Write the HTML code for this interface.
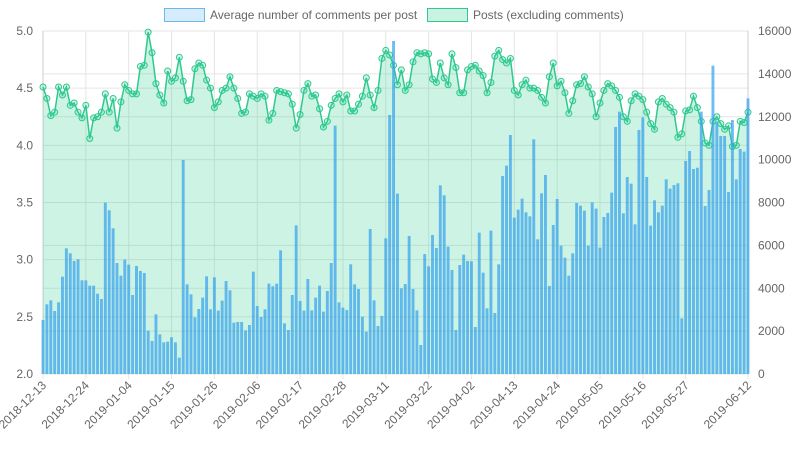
<!DOCTYPE html>
<html><head><meta charset="utf-8"><style>
html,body{margin:0;padding:0;background:#fff;}
svg{display:block;font-family:"Liberation Sans",sans-serif;}
</style></head><body>
<svg id="chart" width="798" height="450" viewBox="0 0 798 450">
<g>
 <g>
  <rect x="164.5" y="8.5" width="40" height="13" fill="#d6ebfb" stroke="#6cb8ea" stroke-width="1"/>
  <text x="210" y="19" font-size="12" fill="#666">Average number of comments per post</text>
 </g>
 <g>
  <rect x="427.5" y="8.5" width="40" height="13" fill="#c9f2e2" stroke="#2ec98f" stroke-width="1"/>
  <text x="473" y="19" font-size="12" fill="#666">Posts (excluding comments)</text>
 </g>
</g>
<g id="grid"></g>
<g id="area"></g>
<g id="bars"></g>
<g id="axes"></g>
</svg>
<script>
const startDate = "2018-12-13";
const avgComments = [4.51,4.41,4.26,4.29,4.51,4.44,4.51,4.35,4.37,4.29,4.24,4.35,4.06,4.24,4.25,4.29,4.45,4.29,4.41,4.15,4.38,4.53,4.48,4.45,4.45,4.69,4.70,4.99,4.81,4.54,4.44,
4.37,4.65,4.56,4.59,4.77,4.56,4.39,4.40,4.67,4.72,4.70,4.57,4.50,4.33,4.38,4.48,4.50,4.60,4.50,4.41,4.28,4.29,4.45,4.43,4.41,4.45,4.43,4.22,4.28,
4.48,4.47,4.46,4.45,4.36,4.15,4.27,4.48,4.54,4.43,4.44,4.32,4.16,4.21,4.35,4.41,4.45,4.38,4.44,4.30,4.30,4.36,4.43,4.59,4.44,4.33,4.48,4.76,4.83,4.79,
4.70,4.53,4.66,4.48,4.53,4.73,4.81,4.80,4.81,4.80,4.58,4.55,4.72,4.59,4.53,4.80,4.68,4.46,4.46,4.66,4.69,4.70,4.65,4.61,4.46,4.55,4.78,4.83,4.75,
4.72,4.76,4.48,4.44,4.53,4.57,4.50,4.50,4.48,4.42,4.37,4.60,4.72,4.52,4.56,4.46,4.28,4.39,4.53,4.54,4.60,4.51,4.45,4.25,4.37,4.48,4.54,4.52,4.48,4.42,
4.25,4.21,4.39,4.45,4.43,4.40,4.29,4.19,4.14,4.38,4.41,4.36,4.33,4.29,4.07,4.10,4.30,4.31,4.43,4.33,4.21,4.02,4.00,4.21,4.25,4.19,4.14,4.17,3.99,4.00,4.21,4.20,4.29];
const posts = [2519,3250,3437,2939,3344,4540,5862,5630,5271,5350,4370,4370,4120,4120,3747,3499,7993,7635,6796,5178,4587,5334,5100,3685,5038,4805,4712,2021,1540,2784,1850,
1477,1508,1710,1477,762,9983,4183,3716,2643,3032,3561,4556,3017,4510,2955,3421,4338,3903,2395,2426,2426,2037,2286,4774,3172,2659,3017,4214,4090,
4214,5769,2364,2053,3685,6935,3405,2955,4432,2970,3561,4121,2908,3872,5178,11585,3343,3095,2986,5116,4183,3965,2675,1975,6764,3437,2239,2706,6329,12082,
15534,8413,3996,4199,6438,3965,2970,1353,5598,5022,6484,5878,8802,8335,5940,4852,2053,5085,5567,5271,5256,2193,6593,4727,3063,6687,2846,5116,9237,
9719,11149,7293,7666,8180,7542,7355,10947,6282,8428,9283,4105,6951,8164,5987,5427,4587,5629,7977,7853,7620,5987,8009,7713,5894,7324,7511,8459,11523,12238,
7495,9190,8879,6982,11383,11973,9190,6920,8101,7542,7853,9081,8646,8817,8895,2597,9936,10403,9563,9625,12238,7838,8584,14384,11771,11103,11103,8490,11849,9081,10496,10372,12860];
const leftTicks = [2.0,2.5,3.0,3.5,4.0,4.5,5.0];
const rightTicks = [0,2000,4000,6000,8000,10000,12000,14000,16000];
const xTickIdx = [0,11,22,33,44,55,66,77,88,99,110,121,132,143,154,165,181];

const NS="http://www.w3.org/2000/svg";
const X0=43,X1=748,YT=31,YB=374;
const n=avgComments.length;
function xs(i){return X0+i*(X1-X0)/(n-1);}
function yl(v){return YB-(v-2)/3*(YB-YT);}
function yr(v){return YB-v/16000*(YB-YT);}
function mk(tag,attrs,parent){const e=document.createElementNS(NS,tag);for(const k in attrs)e.setAttribute(k,attrs[k]);parent.appendChild(e);return e;}
function dateLabel(i){const d=new Date(startDate+"T00:00:00Z");d.setUTCDate(d.getUTCDate()+i);return d.toISOString().slice(0,10);}

const grid=document.getElementById('grid'),area=document.getElementById('area'),bars=document.getElementById('bars'),axes=document.getElementById('axes');
leftTicks.forEach(t=>{const y=yl(t);
 const l=mk('line',{x1:X0,x2:X1,y1:y,y2:y,stroke:t===2?'#bbb':'#e5e5e5','stroke-width':1},grid);
 
 const tx=mk('text',{x:33,y:y+4,'text-anchor':'end','font-size':12,fill:'#666'},axes);tx.textContent=t.toFixed(1);
 });
rightTicks.forEach(t=>{const y=yr(t);
 const l=mk('line',{x1:X0,x2:X1,y1:y,y2:y,stroke:'#e5e5e5','stroke-width':1},grid);
 
 const tx=mk('text',{x:758,y:y+4,'text-anchor':'start','font-size':12,fill:'#666'},axes);tx.textContent=String(t);
 });
xTickIdx.forEach(i=>{const x=xs(i);
 const l=mk('line',{x1:x,x2:x,y1:YT,y2:YB+5,stroke:'#e5e5e5','stroke-width':1},grid);
 
 const tx=mk('text',{x:0,y:0,'text-anchor':'end','font-size':12,fill:'#666',transform:`translate(${x+4},${YB+12}) rotate(-45)`},axes);
 tx.textContent=dateLabel(i);
 });
mk('line',{x1:X0,x2:X0,y1:YT,y2:YB,stroke:'#ccc'},grid);
mk('line',{x1:X1,x2:X1,y1:YT,y2:YB,stroke:'#ccc'},grid);

let pts=avgComments.map((v,i)=>xs(i).toFixed(2)+','+yl(v).toFixed(2));
const fill=mk('polygon',{points:X0+','+YB+' '+pts.join(' ')+' '+X1+','+YB,fill:'rgba(46,204,143,0.24)'},area);

const line=mk('polyline',{points:pts.join(' '),fill:'none',stroke:'#2ec98f','stroke-width':1.5},area);

avgComments.forEach((v,i)=>{const c=mk('circle',{cx:xs(i),cy:yl(v),r:3,fill:'rgba(46,204,143,0.2)',stroke:'#2ec98f','stroke-width':1},area);
 });
const bw=2.9;
posts.forEach((v,i)=>{const y=yr(v);const r=mk('rect',{x:xs(i)-bw/2,y:y,width:bw,height:YB-y,fill:'rgba(54,162,235,0.72)'},bars);
 });
</script>
</body></html>
